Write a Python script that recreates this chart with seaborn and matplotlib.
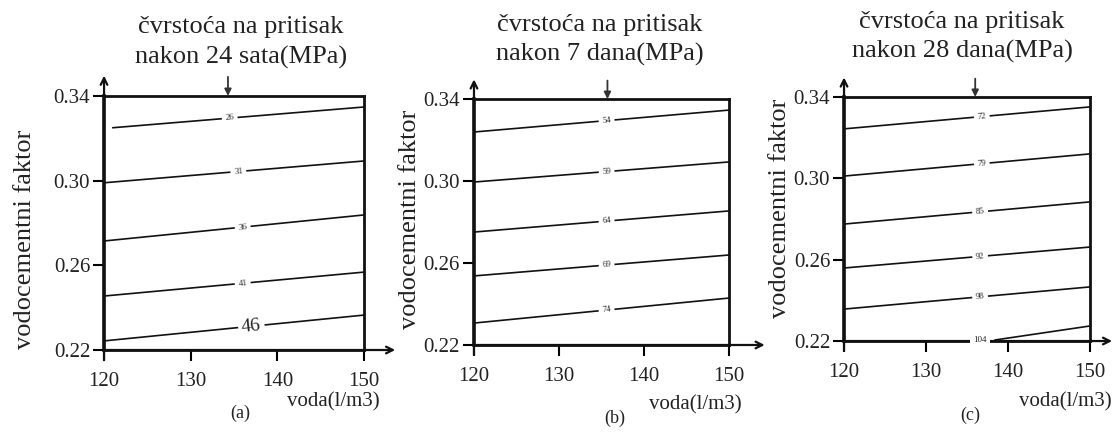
import matplotlib
matplotlib.use('Agg')

import numpy as np
import pandas as pd
import matplotlib.pyplot as plt
import seaborn as sns

# contour lines: value at start (x0) and at x = 150
a_levels = [26, 31, 36, 41, 46]
a_x0 = [121, 120, 120, 120, 120]
a_y0 = [0.325, 0.299, 0.2715, 0.2455, 0.2243]
a_y1 = [0.3348, 0.3093, 0.2838, 0.2568, 0.2365]
a_lab_x = [134.5, 135.5, 136, 136, 137]

b_levels = [54, 59, 64, 69, 74]
b_x0 = [120, 120, 120, 120, 120]
b_y0 = [0.3239, 0.2995, 0.2751, 0.2537, 0.2307]
b_y1 = [0.3346, 0.3093, 0.2854, 0.2639, 0.2429]
b_lab_x = [135.6, 135.6, 135.6, 135.6, 135.6]

c_levels = [72, 79, 85, 92, 98, 104]
c_x0 = [120, 120, 120, 120, 120, 138.4]
c_y0 = [0.3243, 0.3011, 0.2775, 0.2559, 0.2357, 0.2205]
c_y1 = [0.3351, 0.3120, 0.2884, 0.2662, 0.2466, 0.2274]
c_lab_x = [136.8, 136.8, 136.6, 136.6, 136.6, 136.6]

x_end = 150
x_ticks = [120, 130, 140, 150]
y_ticks = [0.22, 0.26, 0.30, 0.34]
titles = ["čvrstoća na pritisak\nnakon 24 sata(MPa)",
          "čvrstoća na pritisak\nnakon 7 dana(MPa)",
          "čvrstoća na pritisak\nnakon 28 dana(MPa)"]
arrow_x = [134.3, 135.7, 136]
panel_tags = ["(a)", "(b)", "(c)"]

sns.set_style("ticks")
plt.rcParams['font.family'] = ['Liberation Serif', 'DejaVu Serif']

fig = plt.figure(figsize=(11.2, 4.32), dpi=100)

# axes boxes and text placements (figure / axes fractions)
boxes = [[0.0929, 0.1898, 0.2321, 0.588],
         [0.4232, 0.2014, 0.2277, 0.5694],
         [0.7536, 0.2106, 0.2196, 0.565]]
xarrow_end = [1.12, 1.14, 1.09]
title_pos = [(0.527, 1.21), (0.494, 1.24), (0.48, 1.246)]
ylabel_pos = [(-0.304, 0.437), (-0.251, 0.512), (-0.262, 0.545)]
xlabel_pos = [(1.06, -0.205), (1.05, -0.245), (1.09, -0.25)]
tag_pos = [(0.523, -0.25), (0.553, -0.297), (0.512, -0.303)]

panels = [(a_levels, a_x0, a_y0, a_y1, a_lab_x),
          (b_levels, b_x0, b_y0, b_y1, b_lab_x),
          (c_levels, c_x0, c_y0, c_y1, c_lab_x)]

for i, (levels, x0, y0, y1, lab_x) in enumerate(panels):
    ax = fig.add_axes(boxes[i])

    rows = []
    for lv, xs, ys, ye in zip(levels, x0, y0, y1):
        rows.append([lv, xs, ys])
        rows.append([lv, x_end, ye])
    df = pd.DataFrame(rows, columns=['level', 'voda', 'vc'])
    sns.lineplot(data=df, x='voda', y='vc', units='level', estimator=None,
                 color='#111111', lw=1.2, ax=ax, legend=False)

    # inline contour labels
    for lv, xs, ys, ye, lx in zip(levels, x0, y0, y1, lab_x):
        ly = np.interp(lx, [xs, x_end], [ys, ye])
        if lx >= xs:
            rot = np.degrees(np.arctan2(ye - ys, x_end - xs))
        else:
            rot = 0
        size = 14 if lv == 46 else 6.5
        ax.text(lx, ly, str(lv), fontsize=size, ha='center', va='center',
                rotation=rot, transform_rotates_text=True, rotation_mode='anchor',
                bbox=dict(facecolor='white', edgecolor='none', pad=2.5), zorder=4)

    ax.set_xlim(120, 150)
    ax.set_ylim(0.22, 0.34)
    ax.set_xticks(x_ticks)
    ax.set_xticklabels([str(t) for t in x_ticks])
    ax.set_yticks(y_ticks)
    ax.set_yticklabels(["%.2f" % t for t in y_ticks])
    ax.tick_params(direction='out', length=8, width=1.5, color='black',
                   labelsize=15, labelcolor='#222222')
    ax.tick_params(axis='x', pad=8)
    ax.tick_params(axis='y', pad=2)
    for sp in ax.spines.values():
        sp.set_linewidth(2)
        sp.set_color('#111111')
    ax.spines['left'].set_linewidth(2.6)

    # axis arrows
    ax.annotate('', xy=(0, 1.08), xytext=(0, -0.04), xycoords='axes fraction',
                arrowprops=dict(arrowstyle='->', lw=1.6, color='#111111',
                                shrinkA=0, shrinkB=0, mutation_scale=12))
    ax.annotate('', xy=(xarrow_end[i], 0), xytext=(0, 0), xycoords='axes fraction',
                arrowprops=dict(arrowstyle='->', lw=1.6, color='#111111',
                                shrinkA=0, shrinkB=0, mutation_scale=12))
    # pointer from the title down to the plot
    ax.annotate('', xy=(arrow_x[i], 1.0), xytext=(arrow_x[i], 1.075),
                xycoords=('data', 'axes fraction'),
                arrowprops=dict(arrowstyle='-|>', lw=1.3, color='#333333',
                                shrinkA=0, shrinkB=0, mutation_scale=10))

    ax.text(title_pos[i][0], title_pos[i][1], titles[i], transform=ax.transAxes,
            ha='center', va='center', fontsize=19, linespacing=1.42, color='#222222')
    ax.set_ylabel("vodocementni faktor", fontsize=19, color='#222222')
    ax.yaxis.set_label_coords(*ylabel_pos[i])
    ax.yaxis.label.set_va('center')
    ax.set_xlabel("voda(l/m3)", fontsize=15, loc='right', color='#222222')
    ax.xaxis.set_label_coords(*xlabel_pos[i])
    ax.xaxis.label.set_va('center')
    ax.text(tag_pos[i][0], tag_pos[i][1], panel_tags[i], transform=ax.transAxes,
            ha='center', va='center', fontsize=13, color='#222222')

fig.savefig("out.png", dpi=100)
